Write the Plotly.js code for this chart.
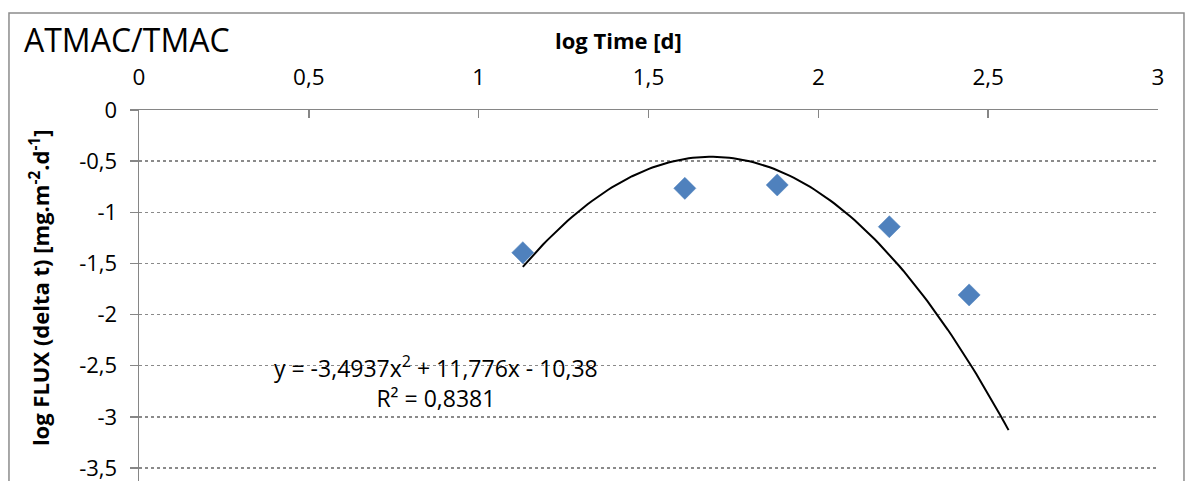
<!DOCTYPE html>
<html>
<head>
<meta charset="utf-8">
<script src="https://cdn.plot.ly/plotly-3.0.1.min.js"></script>
<style>html,body{margin:0;padding:0;background:#fff;}#chart{width:1186px;height:481px;}</style>
</head>
<body>
<div id="chart"></div>
<script>
// Data
const logTime = [1.13, 1.607, 1.879, 2.209, 2.444];
const logFlux = [-1.395, -0.766, -0.733, -1.141, -1.808];
// Polynomial trendline (order 2) coefficients as displayed, and its x span
const trendCoef = [-3.4937, 11.776, -10.38];
const trendSpan = [1.13, 2.56];
const xTicks = [0, 0.5, 1, 1.5, 2, 2.5, 3];
const yTicks = [0, -0.5, -1, -1.5, -2, -2.5, -3, -3.5];
const yTickText = ['0', '-0,5', '-1', '-1,5', '-2', '-2,5', '-3', '-3,5'];

const FONT = '"Open Sans", Lato, sans-serif';

const tx = [], ty = [];
const nSteps = 120;
for (let i = 0; i <= nSteps; i++) {
  const x = trendSpan[0] + (trendSpan[1] - trendSpan[0]) * i / nSteps;
  tx.push(x);
  ty.push(trendCoef[0] * x * x + trendCoef[1] * x + trendCoef[2]);
}

const traces = [
  {
    x: tx, y: ty, type: 'scatter', mode: 'lines',
    line: {color: '#000000', width: 2},
    hoverinfo: 'skip', showlegend: false
  },
  {
    x: logTime, y: logFlux, type: 'scatter', mode: 'markers',
    marker: {symbol: 'diamond', size: 17, color: '#4F81BD', line: {color: '#4A7EBB', width: 0.5}},
    showlegend: false
  }
];

const layout = {
  width: 1186, height: 481,
  margin: {l: 139, r: 28, t: 110, b: 0, pad: 0},
  paper_bgcolor: '#ffffff', plot_bgcolor: '#ffffff',
  separators: ', ',
  font: {family: FONT, size: 20, color: '#000000'},
  showlegend: false,
  xaxis: {
    side: 'top', range: [0, 3], tickvals: xTicks,
    showgrid: false, zeroline: false,
    showline: true, linecolor: '#868686', linewidth: 1.5,
    ticks: 'inside', ticklen: 8, tickcolor: '#868686', tickwidth: 1.5,
    tickfont: {family: FONT, size: 22.5, color: '#000'},
    ticklabelstandoff: 15, ticklabeloverflow: 'allow'
  },
  yaxis: {
    range: [-3.627, 0], tickvals: yTicks, ticktext: yTickText,
    showgrid: true, gridcolor: '#8a8a8a', gridwidth: 1.3, griddash: 'dot',
    zeroline: false,
    showline: true, linecolor: '#868686', linewidth: 1.5,
    ticks: 'outside', ticklen: 8, tickcolor: '#868686', tickwidth: 1.5,
    tickfont: {family: FONT, size: 22, color: '#000'},
    ticklabelstandoff: 8, ticklabeloverflow: 'allow'
  },
  annotations: [
    {text: 'ATMAC/TMAC', xref: 'paper', yref: 'paper', x: -0.1148, y: 1.19,
     xanchor: 'left', yanchor: 'middle', showarrow: false,
     font: {family: FONT, size: 32, color: '#000'}},
    {text: '<b>log Time [d]</b>', xref: 'paper', yref: 'paper', x: 0.471, y: 1.19,
     xanchor: 'center', yanchor: 'middle', showarrow: false,
     font: {family: FONT, size: 22, color: '#000'}},
    {text: '<b>log FLUX (delta t) [mg.m<sup>-2</sup>.d<sup>-1</sup>]</b>', xref: 'paper', yref: 'paper',
     x: -0.0981, y: 0.52, xanchor: 'center', yanchor: 'middle', textangle: -90, showarrow: false,
     font: {family: FONT, size: 22, color: '#000'}},
    {text: 'y = -3,4937x<sup>2</sup> + 11,776x - 10,38<br>R² = 0,8381', xref: 'x', yref: 'y',
     x: 0.875, y: -2.66, xanchor: 'center', yanchor: 'middle', align: 'center', showarrow: false,
     font: {family: FONT, size: 23, color: '#000'}}
  ],
  shapes: [
    {type: 'rect', xref: 'paper', yref: 'paper', x0: -0.1276, x1: 1.0255, y0: -0.2, y1: 1.2615,
     line: {color: '#8c8c8c', width: 1.5}, fillcolor: 'rgba(0,0,0,0)', layer: 'below'}
  ]
};

Plotly.newPlot('chart', traces, layout, {staticPlot: true, displayModeBar: false});
</script>
</body>
</html>
